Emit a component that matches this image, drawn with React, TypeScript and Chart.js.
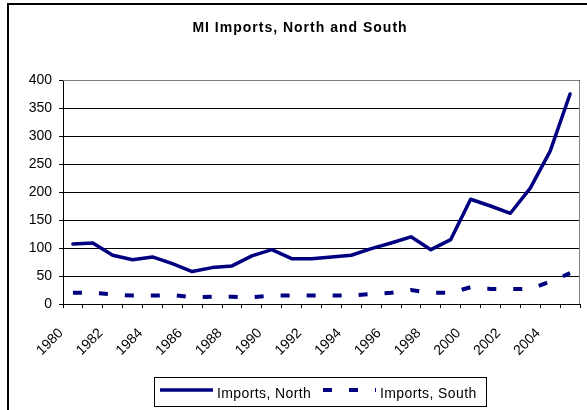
import React, { useEffect, useRef } from 'react';
import { Chart, registerables } from 'chart.js';

Chart.register(...registerables);

const chartTitle = 'MI Imports, North and South';
const years = ['1980','1981','1982','1983','1984','1985','1986','1987','1988','1989','1990','1991','1992','1993','1994','1995','1996','1997','1998','1999','2000','2001','2002','2003','2004','2005'];
const northName = 'Imports, North';
const southName = 'Imports, South';
const northImports = [107, 109, 87, 79, 84, 72, 58, 65, 68, 86, 97, 81, 81, 84, 87, 99, 109, 120, 97, 115, 187, 175, 162, 207, 273, 375];
const southImports = [20, 20, 17, 15, 15, 16, 12, 13, 13, 12, 15, 15, 15, 15, 15, 18, 20, 25, 20, 20, 30, 27, 27, 27, 40, 55];
const yMin = 0;
const yMax = 400;
const yStep = 50;

const NAVY = '#000080';
const FONT = '"Liberation Sans", Arial, sans-serif';

const decorPlugin = {
  id: 'decor',
  beforeDatasetsDraw(chart: any) {
    const { ctx, chartArea } = chart;
    ctx.save();
    ctx.strokeStyle = '#808080';
    ctx.lineWidth = 1;
    ctx.beginPath();
    ctx.moveTo(chartArea.left, chartArea.top + 0.5);
    ctx.lineTo(chartArea.right - 0.5, chartArea.top + 0.5);
    ctx.lineTo(chartArea.right - 0.5, chartArea.bottom);
    ctx.stroke();
    ctx.restore();
  },
  afterDraw(chart: any) {
    const { ctx } = chart;
    ctx.save();
    // outer frame
    ctx.fillStyle = '#000';
    ctx.fillRect(7, 3, 600, 2);
    ctx.fillRect(7, 3, 2, 420);
    // title
    ctx.font = 'bold 14px ' + FONT;
    (ctx as any).letterSpacing = '1px';
    ctx.textAlign = 'center';
    ctx.textBaseline = 'middle';
    ctx.fillStyle = '#000';
    ctx.fillText(chartTitle, 300, 28);
    // legend
    ctx.fillStyle = '#fff';
    ctx.fillRect(154, 377, 332, 30);
    ctx.strokeStyle = '#000';
    ctx.lineWidth = 1;
    ctx.strokeRect(154.5, 377.5, 332, 29);
    ctx.strokeStyle = NAVY;
    ctx.lineWidth = 3.5;
    ctx.beginPath();
    ctx.moveTo(160, 390);
    ctx.lineTo(213, 390);
    ctx.stroke();
    ctx.lineWidth = 4;
    ctx.setLineDash([9, 17]);
    ctx.beginPath();
    ctx.moveTo(323, 390);
    ctx.lineTo(376, 390);
    ctx.stroke();
    ctx.setLineDash([]);
    ctx.font = '14px ' + FONT;
    (ctx as any).letterSpacing = '0.4px';
    ctx.fillStyle = '#000';
    ctx.textAlign = 'left';
    ctx.textBaseline = 'alphabetic';
    ctx.fillText(northName, 217, 398);
    ctx.fillText(southName, 380, 398);
    (ctx as any).letterSpacing = '0px';
    ctx.restore();
  },
};

export default function App() {
  const ref = useRef<HTMLCanvasElement>(null);
  useEffect(() => {
    if (!ref.current) return;
    const chart = new Chart(ref.current, {
      type: 'line',
      data: {
        labels: years,
        datasets: [
          {
            label: northName,
            data: northImports,
            borderColor: NAVY,
            backgroundColor: NAVY,
            borderWidth: 3.5,
            pointRadius: 0,
            tension: 0,
            borderJoinStyle: 'round',
            borderCapStyle: 'round',
          },
          {
            label: southName,
            data: southImports,
            borderColor: NAVY,
            backgroundColor: NAVY,
            borderWidth: 4,
            borderDash: [9, 17],
            pointRadius: 0,
            tension: 0,
            borderCapStyle: 'butt',
          },
        ],
      },
      options: {
        responsive: false,
        animation: false,
        devicePixelRatio: 1,
        layout: { padding: { top: 80, right: 7, bottom: 0, left: 0 } },
        plugins: {
          legend: { display: false },
          title: { display: false },
          tooltip: { enabled: false },
        },
        scales: {
          x: {
            type: 'category',
            offset: true,
            grid: { drawOnChartArea: false, offset: true, tickLength: 4, color: '#000', lineWidth: 1 },
            border: { color: '#000', width: 1 },
            ticks: {
              autoSkip: false,
              maxRotation: 45,
              minRotation: 45,
              padding: 17,
              labelOffset: -12,
              color: '#000',
              font: { family: FONT, size: 14 },
              callback: (_v: any, i: number) => (i % 2 === 0 ? years[i] : ''),
            },
            afterFit: (s: any) => { s.height = 106; s.paddingRight = 0; s.paddingLeft = 0; },
          },
          y: {
            min: yMin,
            max: yMax,
            grid: { color: '#000', lineWidth: 1, tickLength: 4 },
            border: { color: '#000', width: 1 },
            ticks: {
              stepSize: yStep,
              padding: 7,
              color: '#000',
              font: { family: FONT, size: 14 },
            },
            afterFit: (s: any) => { s.width = 63; },
          },
        },
      },
      plugins: [decorPlugin],
    });
    return () => chart.destroy();
  }, []);
  return (
    <div style={{ position: 'absolute', left: 0, top: 0, width: 587, height: 410, background: '#fff' }}>
      <canvas ref={ref} width={587} height={410} style={{ display: 'block' }} />
    </div>
  );
}
